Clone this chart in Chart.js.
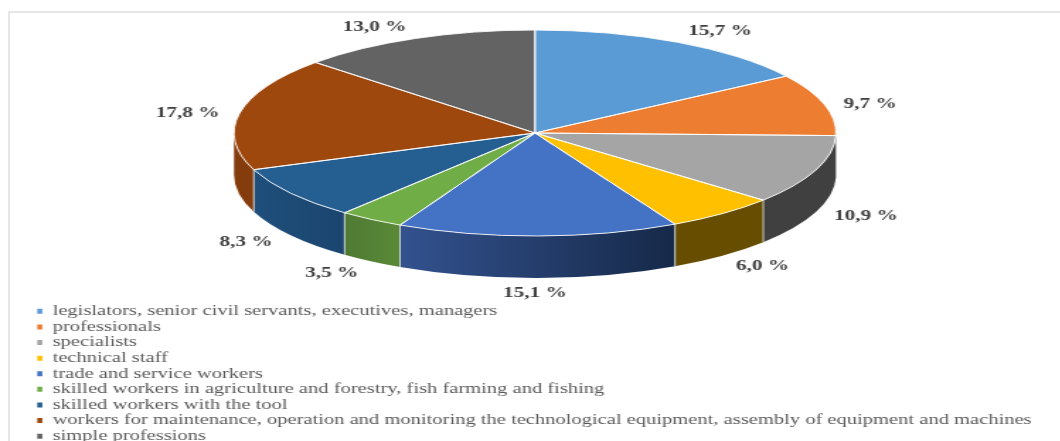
<!DOCTYPE html>
<html><head><meta charset="utf-8">
<style>
html,body{margin:0;padding:0;background:#fff;width:1060px;height:441px;overflow:hidden}
#frame{position:absolute;left:8px;top:11px;width:1060px;height:440px;border:2px solid #e6e6e6;box-sizing:border-box}
#wrap{position:absolute;left:0;top:0;transform-origin:0 0;transform:scaleX(1.416)}
</style>
<script src="https://cdn.jsdelivr.net/npm/chart.js@4"></script>
</head><body>
<div id="frame"></div>
<div id="wrap"><canvas id="c" width="1600" height="470"></canvas></div>
<script>
const categories = [
 "legislators, senior civil servants, executives, managers",
 "professionals",
 "specialists",
 "technical staff",
 "trade and service workers",
 "skilled workers in agriculture and forestry, fish farming and fishing",
 "skilled workers with the tool",
 "workers for maintenance, operation and monitoring the technological equipment, assembly of equipment and machines",
 "simple professions"
];
const shares = [15.7, 9.7, 10.9, 6.0, 15.1, 3.5, 8.3, 17.8, 13.0];
const topColors = ["#5b9bd5","#ed7d31","#a5a5a5","#ffc000","#4472c4","#70ad47","#255e91","#9e480e","#636363"];
const wallFrom = ["#3a6a96","#a4561f","#404040","#664d00","#33528f","#4f7a33","#1f4f7b","#843c0c","#444444"];
const wallTo   = ["#3a6a96","#a4561f","#404040","#664d00","#162949","#5a8a38","#1b4570","#843c0c","#444444"];
const labelNudge = [[42.5,-11.3],[45.7,-0.6],[50,46],[40,52.4],[-3,57],[-39.5,53.6],[-45,48.7],[-52.2,0],[-41,-11.5]];

const SX = 1.416, CX = 535, CY = 133, RX = 301, RY = 103, DEPTH = 42;
const X = CX / SX, W = RX / SX;

function norm(a){ const t = Math.PI*2; return ((a % t) + t) % t; }

const pie3d = {
  id: 'pie3d',
  beforeDatasetsDraw(chart){
    const ctx = chart.ctx, arcs = chart.getDatasetMeta(0).data;
    arcs.forEach((arc,i)=>{
      const p = arc.getProps(['startAngle','endAngle']);
      const a0 = norm(p.startAngle), a1 = a0 + (p.endAngle - p.startAngle);
      if (a0 >= Math.PI) return;
      const b0 = a0, b1 = Math.min(a1, Math.PI);
      const xa = X + W*Math.cos(b0), xb = X + W*Math.cos(b1);
      const g = ctx.createLinearGradient(xb,0,xa,0);
      g.addColorStop(0, wallFrom[i]); g.addColorStop(1, wallTo[i]);
      ctx.beginPath();
      ctx.ellipse(X,CY,W,RY,0,b0,b1);
      ctx.ellipse(X,CY+DEPTH,W,RY,0,b1,b0,true);
      ctx.closePath();
      ctx.fillStyle = g; ctx.fill();
      if (b0 > 0.05) {
        ctx.beginPath();
        ctx.moveTo(xa,CY+RY*Math.sin(b0));
        ctx.lineTo(xa,CY+DEPTH+RY*Math.sin(b0));
        ctx.strokeStyle = 'rgba(215,215,215,0.9)'; ctx.lineWidth = 1; ctx.stroke();
      }
    });
    const a = arcs[0].getProps(['x','y','outerRadius']);
    ctx.save();
    ctx.translate(X,CY);
    ctx.scale(W/a.outerRadius, RY/a.outerRadius);
    ctx.translate(-a.x,-a.y);
  },
  afterDatasetsDraw(chart){
    const ctx = chart.ctx, arcs = chart.getDatasetMeta(0).data;
    ctx.restore();
    arcs.forEach((arc)=>{
      const p = arc.getProps(['startAngle','endAngle']);
      ctx.beginPath();
      ctx.moveTo(X,CY);
      ctx.ellipse(X,CY,W,RY,0,p.startAngle,p.endAngle);
      ctx.closePath();
      ctx.strokeStyle = 'rgba(255,255,255,0.85)'; ctx.lineWidth = 1; ctx.stroke();
    });
    ctx.font = 'bold 15px "Liberation Serif"';
    ctx.fillStyle = '#404040'; ctx.textAlign = 'center'; ctx.textBaseline = 'middle';
    arcs.forEach((arc,i)=>{
      const p = arc.getProps(['startAngle','endAngle']);
      const m = (p.startAngle+p.endAngle)/2;
      const x = X + W*Math.cos(m) + labelNudge[i][0]/SX;
      const y = CY + RY*Math.sin(m) + labelNudge[i][1];
      ctx.fillText(shares[i].toFixed(1).replace('.',',')+' %', x, y);
    });
  }
};

new Chart(document.getElementById('c'),{
  type:'pie',
  data:{labels:categories,datasets:[{data:shares,backgroundColor:topColors,borderWidth:0}]},
  plugins:[pie3d],
  options:{
    responsive:false,animation:false,
    layout:{padding:{left:25.2,right:0,top:303,bottom:0}},
    plugins:{
      tooltip:{enabled:false},
      legend:{position:'left',align:'start',
        labels:{boxWidth:3.6,boxHeight:5,padding:1.1,color:'#595959',
          font:{family:'"Liberation Serif"',size:14.5}}}
    }
  }
});
</script>
</body></html>
